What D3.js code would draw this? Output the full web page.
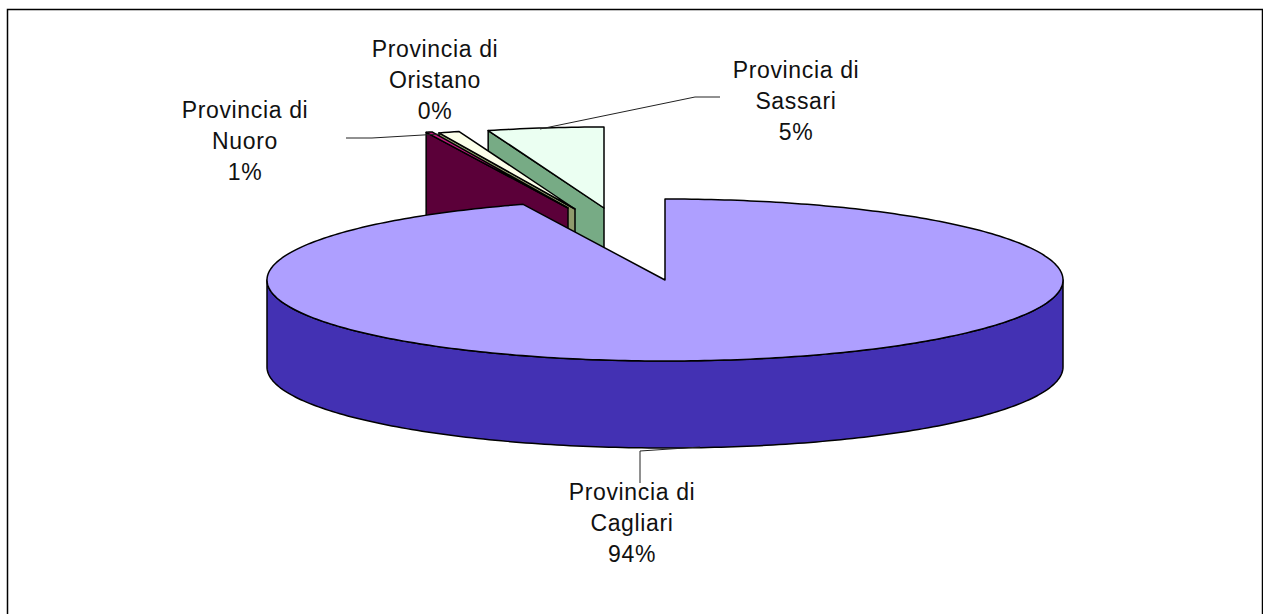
<!DOCTYPE html>
<html>
<head>
<meta charset="utf-8">
<script src="https://cdnjs.cloudflare.com/ajax/libs/d3/7.8.5/d3.min.js"></script>
<style>
html, body { margin: 0; padding: 0; background: #fff; overflow: hidden; }
text { font-family: "Liberation Sans", Arial, sans-serif; font-size: 23px; letter-spacing: 0.65px; fill: #111; }
</style>
</head>
<body>
<svg id="chart" width="1263" height="614"></svg>
<script>
// DATA (pie order, clockwise from 12 o'clock)
var categories = ['Provincia di Cagliari', 'Provincia di Oristano', 'Provincia di Nuoro', 'Provincia di Sassari'];
var shares = [94.2, 0.25, 0.85, 4.7];

// STYLE AND LAYOUT
var topColors = ['#AE9FFF', '#C2187F', '#FCFFE9', '#EBFFF2'];
var sideColors = ['#4331B3', '#5B0039', '#8F9A6C', '#77AB85'];
var offsets = [[0, 0], [-97, -72], [-90, -71], [-61, -72]];
var labelPos = [[632, 500], [435, 57], [245, 118], [796, 78]];
var leaders = [
    [[640, 483], [640, 451], [700, 447]],
    [],
    [[346, 138], [372, 138], [440, 134]],
    [[540, 129], [695, 97], [720, 97]]
];
var cx = 665, cy = 280, rx = 398, ry = 81, depth = 87, lineGap = 31;

var svg = d3.select('#chart');

// Frame
svg.append('rect')
    .attr('x', 7.5).attr('y', 9.5)
    .attr('width', 1255).attr('height', 700)
    .style('fill', '#fff').style('stroke', '#000').style('stroke-width', 1.5);

var arcs = d3.pie().sort(null).value(function(d) { return d; })(shares);

// Map an angle on the pie to the tilted ellipse
var xRim = d3.scaleLinear().domain([-1, 1]).range([cx - rx, cx + rx]);
var yRim = d3.scaleLinear().domain([-1, 1]).range([cy + ry, cy - ry]);
function rim(a, off, drop) {
    return [xRim(Math.sin(a)) + off[0], yRim(Math.cos(a)) + off[1] + drop];
}
function rimPoints(a0, a1, off, drop) {
    var n = Math.max(2, Math.ceil((a1 - a0) * 60));
    return d3.range(n + 1).map(function(i) { return rim(a0 + (a1 - a0) * i / n, off, drop); });
}
var line = d3.line();

function drawSlice(i) {
    var a = arcs[i], off = offsets[i];
    var apex = [cx + off[0], cy + off[1]];
    var g = svg.append('g').style('stroke', '#000').style('stroke-width', 1.5).style('stroke-linejoin', 'round');

    // cut face on the trailing side (seen for the slices behind the centre)
    if (i > 0) {
        var p = rim(a.startAngle, off, 0);
        g.append('path')
            .attr('d', line([apex, p, [p[0], p[1] + depth], [apex[0], apex[1] + depth]]) + 'Z')
            .style('fill', sideColors[i]);
    }
    // outer wall, only the part that faces the viewer
    var w0 = Math.max(a.startAngle, Math.PI / 2), w1 = Math.min(a.endAngle, Math.PI * 1.5);
    if (w1 > w0) {
        var wall = rimPoints(w0, w1, off, 0).concat(rimPoints(w0, w1, off, depth).reverse());
        g.append('path').attr('d', line(wall) + 'Z').style('fill', sideColors[i]);
    }
    // top face
    var face = [apex].concat(rimPoints(a.startAngle, a.endAngle, off, 0));
    g.append('path').attr('d', line(face) + 'Z').style('fill', topColors[i]);
}

// Back slices first, the big one covers them
[3, 2, 1, 0].forEach(drawSlice);

// Leader lines
leaders.forEach(function(pts) {
    if (!pts.length) return;
    svg.append('path').attr('d', line(pts))
        .style('fill', 'none').style('stroke', '#222').style('stroke-width', 1);
});

// Data labels
categories.forEach(function(name, i) {
    var parts = name.split(' ');
    var rows = [parts[0] + ' ' + parts[1], parts[2], Math.round(shares[i]) + '%'];
    var t = svg.append('text').attr('text-anchor', 'middle');
    rows.forEach(function(r, k) {
        t.append('tspan')
            .attr('x', labelPos[i][0])
            .attr('y', labelPos[i][1] + k * lineGap)
            .text(r);
    });
});
</script>
</body>
</html>
